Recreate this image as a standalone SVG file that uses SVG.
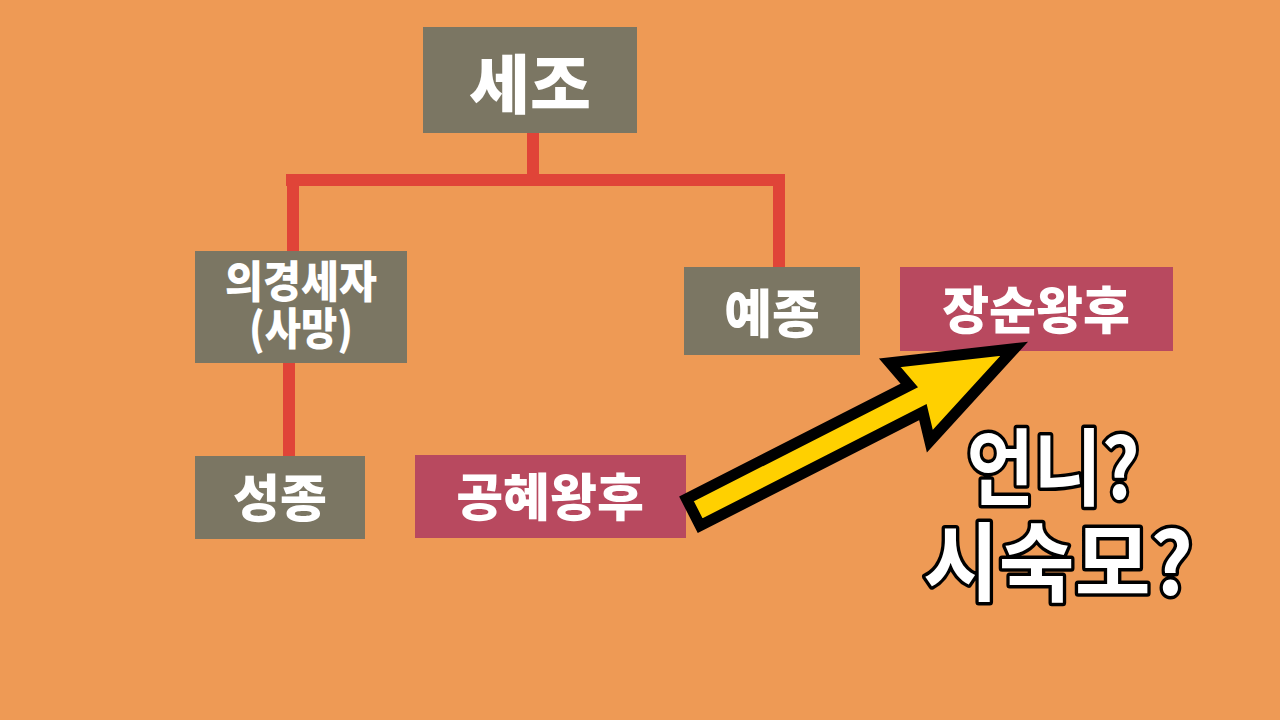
<svg xmlns="http://www.w3.org/2000/svg" width="1280" height="720" viewBox="0 0 1280 720">
<style>
.g{fill:#7B7663}
.r{fill:#B8495F}
.t{fill:#fff;font-family:"Noto Sans CJK KR","Noto Sans",sans-serif;font-weight:900;text-anchor:middle;dominant-baseline:central}
.line{fill:#E04438}
.big{fill:#fff;stroke:#000;stroke-width:7;stroke-linejoin:round;paint-order:stroke;font-family:"Noto Sans CJK KR",sans-serif;font-weight:700;text-anchor:middle;dominant-baseline:central}
</style>
<rect width="1280" height="720" fill="#EE9A55"/>
<g id="connectors">
<rect class="line" x="527" y="133" width="12" height="50"/>
<rect class="line" x="286" y="174" width="499" height="12"/>
<rect class="line" x="287" y="174" width="12" height="77"/>
<rect class="line" x="773" y="174" width="12" height="93"/>
<rect class="line" x="283" y="363" width="12" height="93"/>
</g>
<g id="sejo"><rect class="g" x="423" y="27" width="214" height="106"/><text class="t" x="530" y="80" font-size="64" textLength="122" lengthAdjust="spacingAndGlyphs">세조</text></g>
<g id="uigyeong"><rect class="g" x="195" y="251" width="212" height="112"/>
<text class="t" font-size="44"><tspan x="301" y="279" textLength="152" lengthAdjust="spacingAndGlyphs">의경세자</tspan><tspan x="301" y="326" textLength="104" lengthAdjust="spacingAndGlyphs">(사망)</tspan></text></g>
<g id="yejong"><rect class="g" x="684" y="267" width="176" height="88"/><text class="t" x="772" y="310" font-size="52">예종</text></g>
<g id="jangsun"><rect class="r" x="900" y="267" width="273" height="84"/><text class="t" x="1036" y="307" font-size="51">장순왕후</text></g>
<g id="seongjong"><rect class="g" x="195" y="456" width="170" height="83"/><text class="t" x="280" y="495" font-size="51">성종</text></g>
<g id="gonghye"><rect class="r" x="415" y="455" width="271" height="83"/><text class="t" x="550" y="494" font-size="51">공혜왕후</text></g>
<g id="arrow" transform="translate(688,515) rotate(-27)">
<polygon points="6,-15 256,-15 249,-44 366,0 249,44 256,15 6,15" fill="#FFD000" stroke="#000" stroke-width="11" stroke-linejoin="miter"/>
</g>
<g id="question">
<text class="big" font-size="84"><tspan x="1053" y="462" textLength="173" lengthAdjust="spacingAndGlyphs">언니?</tspan><tspan x="1058" y="557" font-size="86" textLength="270" lengthAdjust="spacingAndGlyphs">시숙모?</tspan></text>
</g>
</svg>
